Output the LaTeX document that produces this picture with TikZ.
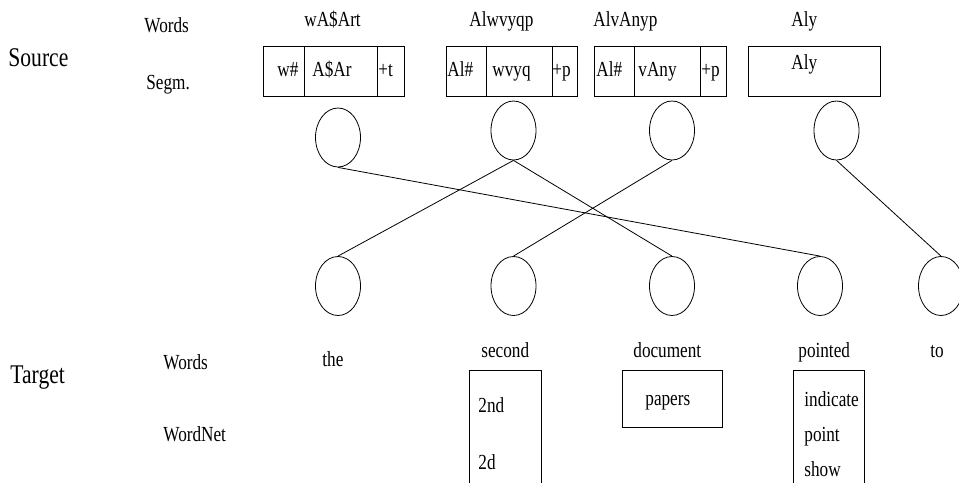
\documentclass[tikz,border=0pt]{standalone}
\usepackage{fontspec}
\setmainfont{Liberation Serif}[FakeStretch=0.8]
\usetikzlibrary{shapes.geometric}
\begin{document}
\begin{tikzpicture}[x=1pt,y=-1pt,line width=.8pt,
 every node/.style={inner sep=0pt,font=\fontsize{21.5}{24}\selectfont},
 big/.style={font=\fontsize{27}{30}\selectfont},
 txt/.style={anchor=base west},
 ell/.style={draw,ellipse,minimum width=45,minimum height=59}]
\path[use as bounding box,clip](0,0)rectangle(959,483);
\def\top{46}
\def\bot{96}
\node[txt,big](src)at(8,66){Source};
\node[txt](swd)at(144,32){Words};
\node[txt](ssg)at(146,89){Segm.};
\node[txt](w1)at(304,26){wA\$Art};
\node[txt](w2)at(469,26){Alwvyqp};
\node[txt](w3)at(593,26){AlvAnyp};
\node[txt](w4)at(791,26){Aly};
\draw(263,\top)rectangle(404,\bot)(304,\top)--(304,\bot)(377,\top)--(377,\bot);
\draw(446,\top)rectangle(577,\bot)(486,\top)--(486,\bot)(552,\top)--(552,\bot);
\draw(594,\top)rectangle(726,\bot)(634,\top)--(634,\bot)(700,\top)--(700,\bot);
\draw(748,\top)rectangle(880,\bot);
\node[txt](s1a)at(277,76){w\#};
\node[txt](s1b)at(312,76){A\$Ar};
\node[txt](s1c)at(378,76){+t};
\node[txt](s2a)at(447,76){Al\#};
\node[txt](s2b)at(492,76){wvyq};
\node[txt](s2c)at(552,76){+p};
\node[txt](s3a)at(596,76){Al\#};
\node[txt](s3b)at(638,76){vAny};
\node[txt](s3c)at(701,76){+p};
\node[txt](s4a)at(791,69){Aly};
\node[ell](t1)at(338,137.5){};
\node[ell](t2)at(513.5,130.5){};
\node[ell](t3)at(672,130.5){};
\node[ell](t4)at(836.5,130.5){};
\node[ell](b1)at(338,286){};
\node[ell](b2)at(513.5,286){};
\node[ell](b3)at(672,286){};
\node[ell](b4)at(820,286){};
\node[ell](b5)at(941,286){};
\draw(t1.south)--(b4.north);
\draw(t2.south)--(b1.north);
\draw(t2.south)--(b3.north);
\draw(t3.south)--(b2.north);
\draw(t4.south)--(b5.north);
\node[txt,big](tgt)at(10,383){Target};
\node[txt](twd)at(163,369){Words};
\node[txt](twn)at(163,441){WordNet};
\node[txt](g1)at(322,366){the};
\node[txt](g2)at(481,357){second};
\node[txt](g3)at(633,357){document};
\node[txt](g4)at(798,357){pointed};
\node[txt](g5)at(930,357){to};
\draw(469,483)--(469,370)--(541,370)--(541,483);
\draw(622,370)rectangle(722,427);
\draw(793,483)--(793,370)--(864,370)--(864,483);
\node[txt](n1)at(478,412){2nd};
\node[txt](n2)at(478,469){2d};
\node[txt](n3)at(645,405){papers};
\node[txt](n4)at(804,406){indicate};
\node[txt](n5)at(804,441){point};
\node[txt](n6)at(804,476){show};
\end{tikzpicture}
\end{document}
